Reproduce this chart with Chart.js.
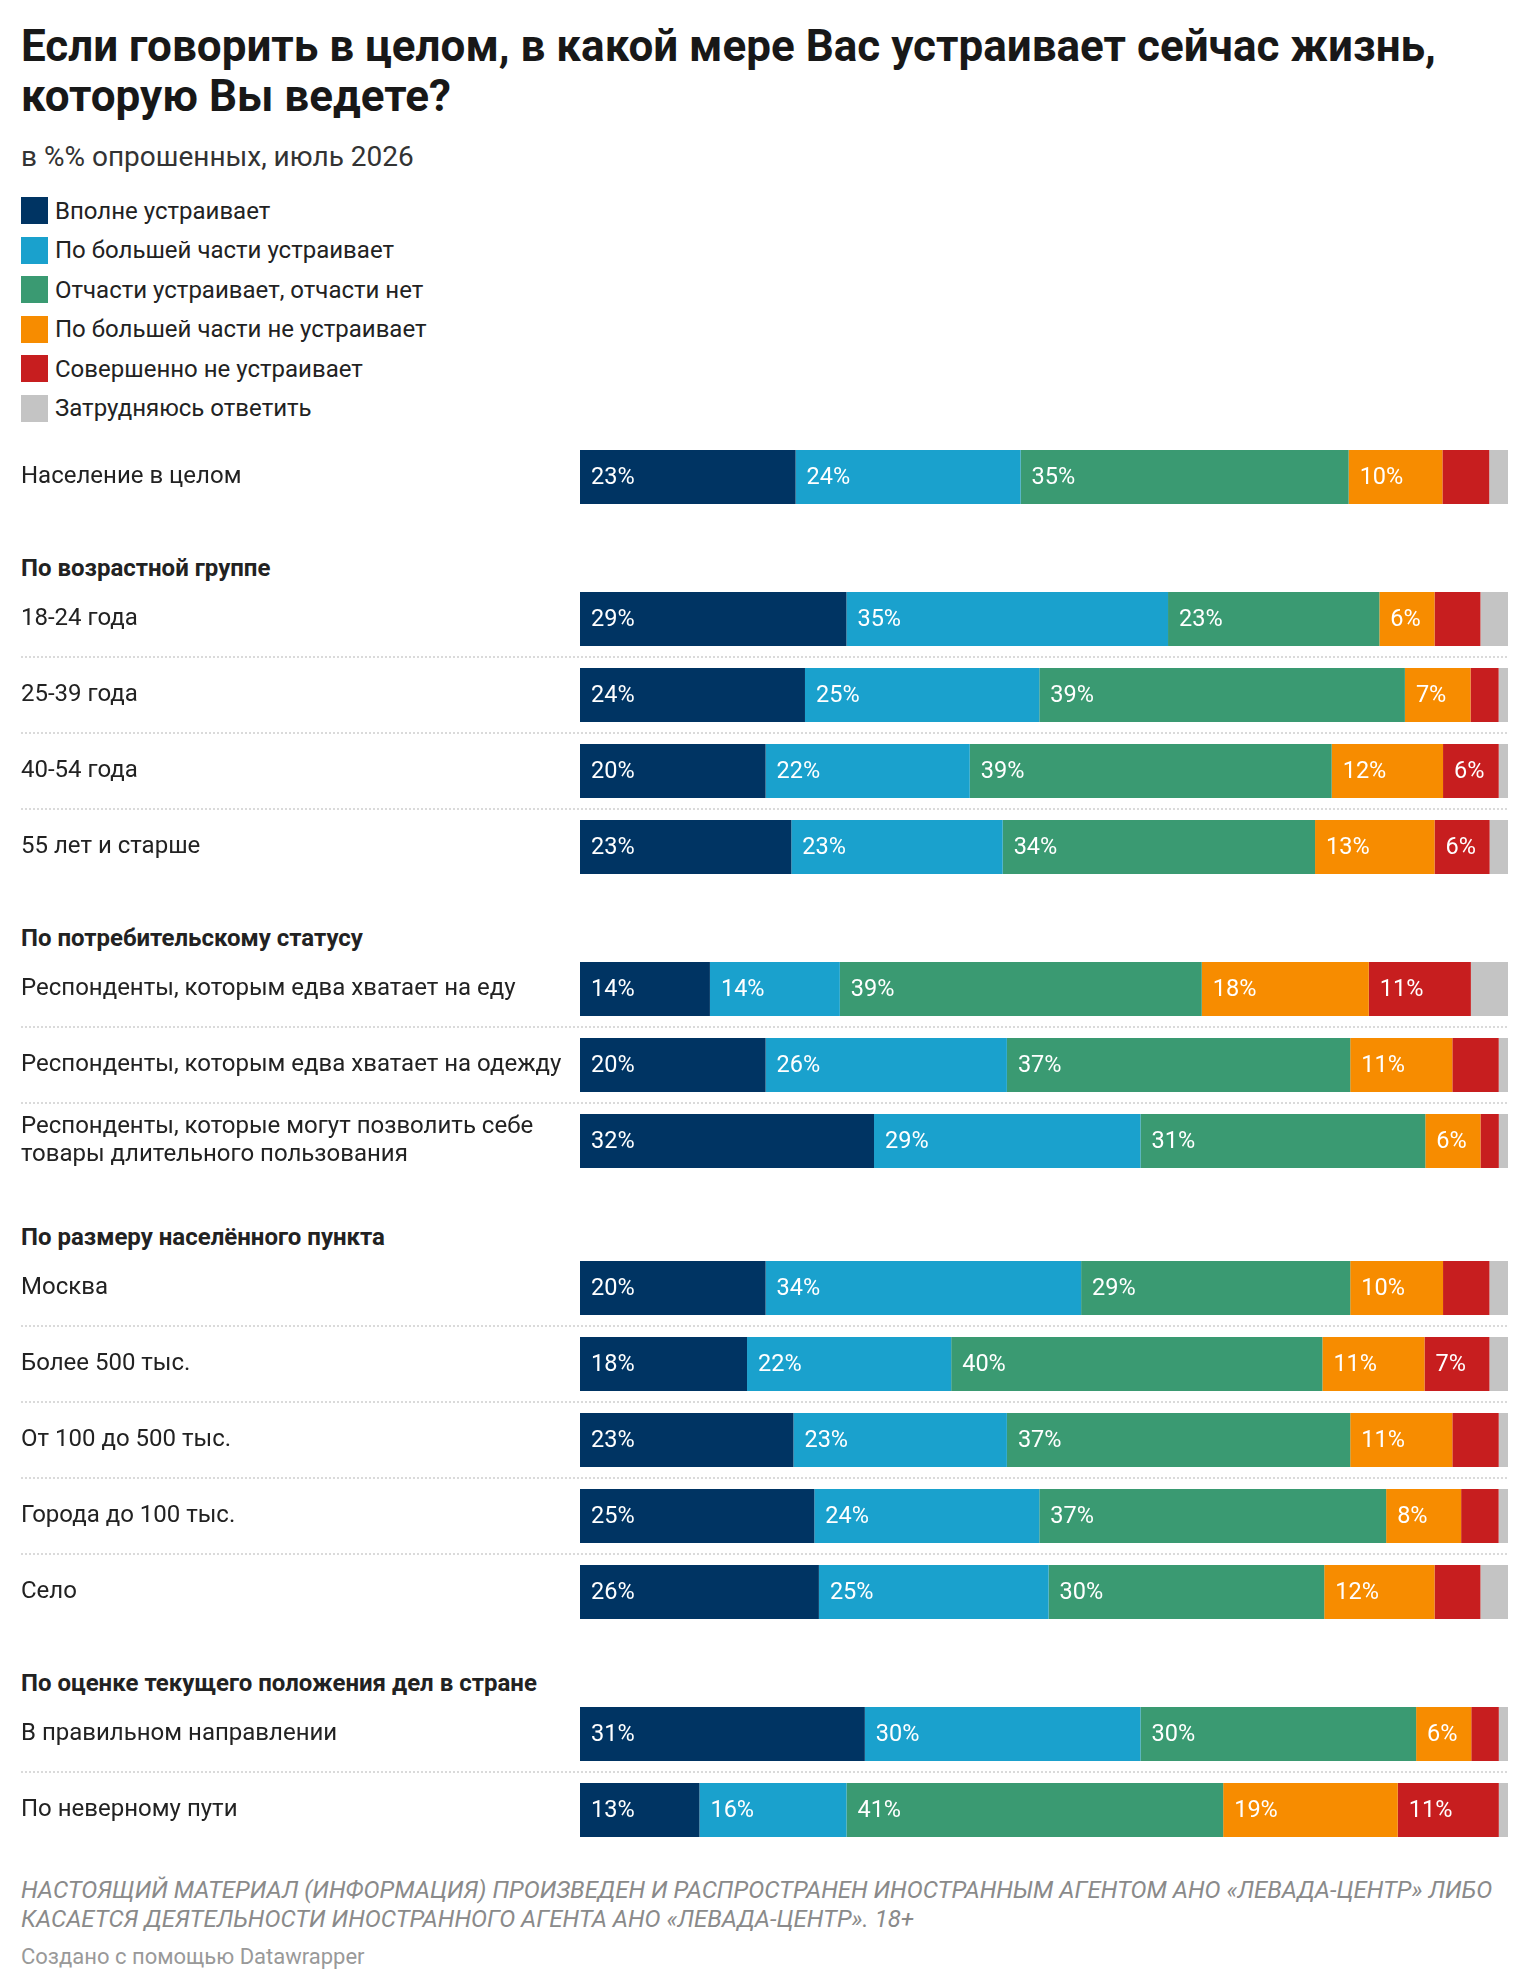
<!DOCTYPE html>
<html lang="ru">
<head>
<meta charset="utf-8">
<script src="https://cdn.jsdelivr.net/npm/chart.js@4.4.1/dist/chart.umd.min.js"></script>
<style>
  html, body { margin: 0; padding: 0; background: #fff; }
  body { width: 1528px; height: 1988px; position: relative; font-family: Roboto, "Noto Sans", sans-serif; color: #222; overflow: hidden; }
  .abs { position: absolute; left: 21px; }
  #title { top: 21px; font-size: 44px; line-height: 50px; font-weight: 700; color: #181818; white-space: nowrap; }
  #subtitle { top: 141px; font-size: 28px; line-height: 32px; color: #333; }
  #legend { top: 191px; }
  .li { display: flex; align-items: center; height: 39.5px; font-size: 24px; color: #222; }
  .sw { width: 27px; height: 27px; margin-right: 7px; flex: none; }
  .hdr { font-size: 24px; line-height: 28px; font-weight: 700; color: #222; white-space: nowrap; }
  canvas.grp { position: absolute; left: 21px; }
  #note { top: 1876px; font-size: 24px; line-height: 29px; font-style: italic; color: #8a8a8a; white-space: nowrap; }
  #credit { top: 1944px; font-size: 22px; line-height: 26px; color: #999; }
</style>
</head>
<body>
<div id="title" class="abs">Если говорить в целом, в какой мере Вас устраивает сейчас жизнь,<br>которую Вы ведете?</div>
<div id="subtitle" class="abs">в %% опрошенных, июль 2026</div>
<div id="legend" class="abs"></div>
<div id="note" class="abs">НАСТОЯЩИЙ МАТЕРИАЛ (ИНФОРМАЦИЯ) ПРОИЗВЕДЕН И РАСПРОСТРАНЕН ИНОСТРАННЫМ АГЕНТОМ АНО «ЛЕВАДА-ЦЕНТР» ЛИБО<br>КАСАЕТСЯ ДЕЯТЕЛЬНОСТИ ИНОСТРАННОГО АГЕНТА АНО «ЛЕВАДА-ЦЕНТР». 18+</div>
<div id="credit" class="abs">Создано с помощью Datawrapper</div>
<script>
// ---- DATA ----
const seriesNames = ['Вполне устраивает', 'По большей части устраивает', 'Отчасти устраивает, отчасти нет', 'По большей части не устраивает', 'Совершенно не устраивает', 'Затрудняюсь ответить'];
const groupTitles = ['', 'По возрастной группе', 'По потребительскому статусу', 'По размеру населённого пункта', 'По оценке текущего положения дел в стране'];
const categories = [
  'Население в целом',
  '18-24 года', '25-39 года', '40-54 года', '55 лет и старше',
  'Респонденты, которым едва хватает на еду', 'Респонденты, которым едва хватает на одежду', ['Респонденты, которые могут позволить себе', 'товары длительного пользования'],
  'Москва', 'Более 500 тыс.', 'От 100 до 500 тыс.', 'Города до 100 тыс.', 'Село',
  'В правильном направлении', 'По неверному пути'
];
const categoryGroup = [0, 1, 1, 1, 1, 2, 2, 2, 3, 3, 3, 3, 3, 4, 4];
const fullySatisfied  = [23, 29, 24, 20, 23, 14, 20, 32, 20, 18, 23, 25, 26, 31, 13];
const mostlySatisfied = [24, 35, 25, 22, 23, 14, 26, 29, 34, 22, 23, 24, 25, 30, 16];
const partlySatisfied = [35, 23, 39, 39, 34, 39, 37, 31, 29, 40, 37, 37, 30, 30, 41];
const mostlyNot       = [10,  6,  7, 12, 13, 18, 11,  6, 10, 11, 11,  8, 12,  6, 19];
const notAtAll        = [ 5,  5,  3,  6,  6, 11,  5,  2,  5,  7,  5,  4,  5,  3, 11];
const hardToSay       = [ 2,  3,  1,  1,  2,  4,  1,  1,  2,  2,  1,  1,  3,  1,  1];

// ---- STYLE ----
const colors = ['#003463', '#1aa1cd', '#3a9a72', '#f78c00', '#c71e1f', '#c4c4c4'];
const groupTops = [439, 581, 951, 1250, 1696];
const ROW = 76, BAR = 54, AXISW = 559, CANVASW = 1487;

const allSeries = [fullySatisfied, mostlySatisfied, partlySatisfied, mostlyNot, notAtAll, hardToSay];

// legend
const legend = document.getElementById('legend');
seriesNames.forEach((n, i) => {
  const d = document.createElement('div');
  d.className = 'li';
  d.innerHTML = '<span class="sw" style="background:' + colors[i] + '"></span><span>' + n + '</span>';
  legend.appendChild(d);
});

const valueLabels = {
  id: 'valueLabels',
  afterDatasetsDraw(chart) {
    const ctx = chart.ctx;
    ctx.save();
    ctx.font = '23.5px Roboto';
    ctx.fillStyle = '#ffffff';
    ctx.textBaseline = 'middle';
    ctx.textAlign = 'left';
    chart.data.datasets.forEach((ds, di) => {
      const meta = chart.getDatasetMeta(di);
      meta.data.forEach((bar, i) => {
        const w = bar.x - bar.base;
        if (w > 50) ctx.fillText(ds.raw[i] + '%', bar.base + 11, bar.y + 1);
      });
    });
    ctx.restore();
  }
};

const separators = {
  id: 'separators',
  beforeDatasetsDraw(chart) {
    const y = chart.scales.y, ctx = chart.ctx;
    const n = chart.data.labels.length;
    ctx.save();
    ctx.strokeStyle = '#dadada';
    ctx.lineWidth = 2;
    ctx.setLineDash([2, 2]);
    for (let i = 1; i < n; i++) {
      const py = Math.round((y.getPixelForValue(i - 1) + y.getPixelForValue(i)) / 2);
      ctx.beginPath();
      ctx.moveTo(0, py);
      ctx.lineTo(chart.chartArea.right, py);
      ctx.stroke();
    }
    ctx.restore();
  }
};

groupTitles.forEach((title, g) => {
  const idx = categoryGroup.map((v, i) => v === g ? i : -1).filter(i => i >= 0);
  const top = groupTops[g];
  if (title) {
    const h = document.createElement('div');
    h.className = 'abs hdr';
    h.style.top = (top - 27) + 'px';
    h.textContent = title;
    document.body.appendChild(h);
  }
  const cv = document.createElement('canvas');
  cv.className = 'grp';
  cv.style.top = top + 'px';
  cv.width = CANVASW;
  cv.height = idx.length * ROW;
  cv.style.width = CANVASW + 'px';
  cv.style.height = (idx.length * ROW) + 'px';
  document.body.appendChild(cv);

  const totals = idx.map(i => allSeries.reduce((s, arr) => s + arr[i], 0));
  const datasets = allSeries.map((arr, si) => ({
    label: seriesNames[si],
    data: idx.map((i, k) => arr[i] / totals[k] * 100),
    raw: idx.map(i => arr[i]),
    backgroundColor: colors[si],
    borderWidth: 0,
    barPercentage: 1,
    categoryPercentage: BAR / ROW
  }));

  new Chart(cv.getContext('2d'), {
    type: 'bar',
    data: { labels: idx.map(i => categories[i]), datasets },
    options: {
      indexAxis: 'y',
      responsive: false,
      animation: false,
      devicePixelRatio: 1,
      layout: { padding: 0 },
      scales: {
        x: { stacked: true, min: 0, max: 100, display: false },
        y: {
          stacked: true,
          grid: { display: false, drawTicks: false },
          border: { display: false },
          ticks: {
            autoSkip: false,
            color: '#222',
            crossAlign: 'far',
            padding: 0,
            font: { family: 'Roboto', size: 24, lineHeight: 1.17 }
          },
          afterFit(s) { s.width = AXISW; s.paddingTop = 0; s.paddingBottom = 0; }
        }
      },
      plugins: { legend: { display: false }, tooltip: { enabled: false } }
    },
    plugins: [separators, valueLabels]
  });
});
</script>
</body>
</html>
